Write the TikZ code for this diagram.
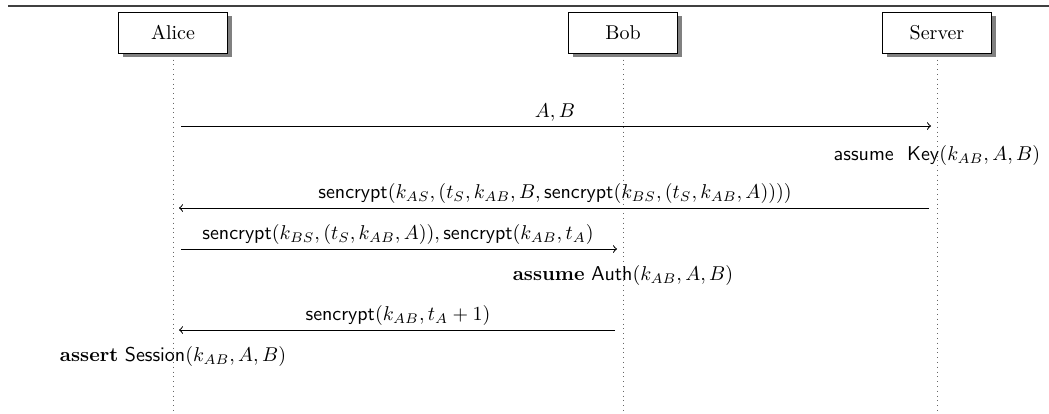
\documentclass[tikz,border=0pt]{standalone}
\usepackage{amsmath}
\usepackage{amssymb}
\usetikzlibrary{shadows,positioning}
\newcommand{\SENC}{\mathsf{sencrypt}}

\begin{document}
\begin{tikzpicture}[x=0.5pt, y=-0.5pt,
    inst/.style={draw, line width=0.5pt, fill=white,
      drop shadow={shadow xshift=2pt, shadow yshift=-2pt, fill=black!50, opacity=1},
      minimum width=54.5pt, minimum height=20.5pt, inner sep=0pt},
    life/.style={dotted, black!60},
    msg/.style={->, line width=0.5pt, shorten <=4pt, shorten >=3pt},
    lbl/.style={above, inner sep=2pt}]

  \useasboundingbox (0,0) rectangle (1049,413);
  \draw[line width=0.8pt, black!75] (8,6) -- (1049,6);

  %% instances
  \node[inst] (alice) at (173,32.5) {Alice};
  \node[inst] (bob) at (623,32.5) {Bob};
  \node[inst] (server) at (937,32.5) {Server};

  %% rows
  \coordinate (bottom) at (0,413);
  \coordinate (r1) at (0,126);
  \coordinate (n1) at (0,155);
  \coordinate (r2) at (0,208);
  \coordinate (r3) at (0,249);
  \coordinate (n2) at (0,275);
  \coordinate (r4) at (0,330);
  \coordinate (n3) at (0,356);

  %% lifelines
  \draw[life] ([yshift=-3pt]alice.south) -- (alice |- bottom);
  \draw[life] ([yshift=-3pt]bob.south) -- (bob |- bottom);
  \draw[life] ([yshift=-3pt]server.south) -- (server |- bottom);

  %% messages
  \draw[msg] (alice |- r1) -- node[lbl]{$A, B$} (server |- r1); % A->S
  \node (key) at (server |- n1) {$\mathsf{assume}\ \ \mathsf{Key}(k_{AB}, A, B)$};

  \draw[msg] (server |- r2) -- node[lbl]{$\SENC(k_{AS}, (t_S, k_{AB}, B, \SENC(k_{BS}, (t_S, k_{AB}, A))))$} (alice |- r2); % S->A

  \draw[msg] (alice |- r3) -- node[lbl]{$\SENC(k_{BS}, (t_S, k_{AB}, A)), \SENC(k_{AB}, t_A)$} (bob |- r3); % A->B
  \node (auth) at (bob |- n2) {$\textbf{assume}\ \mathsf{Auth}(k_{AB}, A, B)$};

  \draw[msg] (bob |- r4) -- node[lbl]{$\SENC(k_{AB}, t_A + 1)$} (alice |- r4); % B->A
  \node (sess) at (alice |- n3) {$\textbf{assert}\ \mathsf{Session}(k_{AB}, A, B)$};

\end{tikzpicture}
\end{document}
